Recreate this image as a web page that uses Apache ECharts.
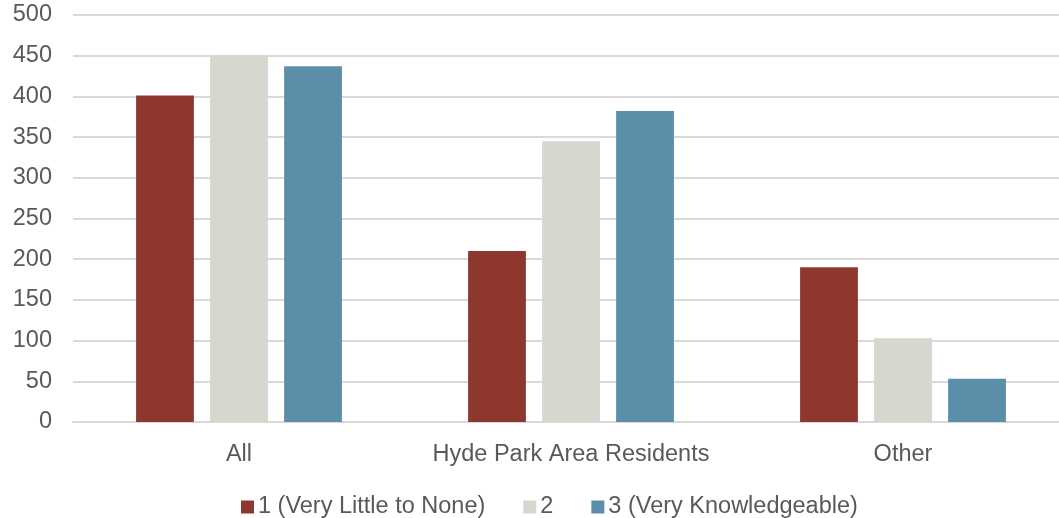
<!DOCTYPE html>
<html><head><meta charset="utf-8">
<script src="https://cdn.jsdelivr.net/npm/echarts@6/dist/echarts.min.js"></script>
<style>html,body{margin:0;padding:0;background:#fff;overflow:hidden;width:1059px;height:518px}#c{width:1069px;height:518px}</style>
</head><body><div id="c"></div>
<script>
const categories = ['All', 'Hyde Park Area Residents', 'Other'];
const seriesNames = ['1 (Very Little to None)', '2', '3 (Very Knowledgeable)'];
const s1 = [401, 210, 190];
const s2 = [450, 345, 103];
const s3 = [437, 382, 53];
const colors = ['#8E372E', '#D7D6CF', '#5B8FA9'];
const font = 'Helvetica, "Liberation Sans", Arial, sans-serif';
const chart = echarts.init(document.getElementById('c'));
chart.setOption({
  animation: false,
  color: colors,
  grid: {left: 73, right: 0, top: 15, bottom: 96, containLabel: false},
  legend: {
    top: 490, left: 236, itemWidth: 13, itemHeight: 13, itemGap: 38,
    icon: 'rect',
    textStyle: {fontFamily: font, fontSize: 23.5, color: '#595959', padding: [0, 0, 0, -1]},
    data: seriesNames
  },
  xAxis: {
    type: 'category', data: categories,
    axisLine: {show: true, lineStyle: {color: '#D9D9D9', width: 2}},
    axisTick: {show: false},
    axisLabel: {fontFamily: font, fontSize: 23.5, color: '#595959', margin: 21, interval: 0}
  },
  yAxis: {
    type: 'value', min: 0, max: 500, interval: 50,
    axisLine: {show: false}, axisTick: {show: false},
    splitLine: {lineStyle: {color: '#D9D9D9', width: 2}},
    axisLabel: {fontFamily: font, fontSize: 23.5, color: '#595959', margin: 21}
  },
  series: [
    {name: seriesNames[0], type: 'bar', data: s1, barGap: '28%', barCategoryGap: '38%'},
    {name: seriesNames[1], type: 'bar', data: s2},
    {name: seriesNames[2], type: 'bar', data: s3}
  ]
});
</script></body></html>
